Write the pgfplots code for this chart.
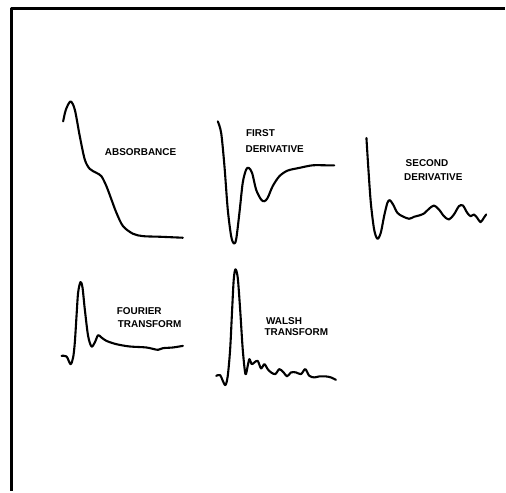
\documentclass[border=0pt]{standalone}
\usepackage{pgfplots}
\pgfplotsset{compat=1.18}
\usepackage{fontspec}
\setmainfont{Liberation Sans}
\tikzset{lab/.style={anchor=west, inner sep=0pt, font=\fontsize{10}{11}\selectfont\bfseries}}
\begin{document}
\begin{tikzpicture}
\begin{axis}[
  scale only axis, width=506bp, height=492bp,
  xmin=0, xmax=506, ymin=0, ymax=492, y dir=reverse,
  hide axis, clip=false,
  every axis plot/.append style={black, line width=2.1bp, line join=round, line cap=round},
]
\path (rel axis cs:0,0) rectangle (rel axis cs:1,1);
% frame
\addplot[line width=2.4bp, line cap=butt] coordinates {(11.5,492) (11.5,8.5) (506,8.5)};
% absorbance
\addplot[smooth] coordinates {
(63.3,121.7) (66,110) (70.7,101.7) (75,110) (80,136.7) (85,160) (90,169.3)
(96.7,173.3) (101.7,176.7) (106.7,186.7) (111.7,200) (116.7,213.3) (123.3,226.7)
(133.3,234.3) (143.3,236.7) (160,237.3) (183.3,238.3)};
% first derivative
\addplot[smooth] coordinates {
(218.3,121.7) (221.7,133.3) (225,166.7) (228.3,210) (231.7,236.7) (234.3,244)
(236.7,240) (240,213.3) (243.3,183.3) (246.7,170) (249.3,168.3) (252.7,173.3)
(256.7,190) (261.7,200) (265,201.7) (268.3,198.3) (273.3,186.7) (280,176.7)
(288.3,171) (300,168.3) (313.3,165.7) (326.7,165.7) (335,165.7)};
% second derivative
\addplot[smooth] coordinates {
(367.3,138.3) (369.3,170) (371.7,203.3) (375,230) (378.3,239.3) (381.7,233.3)
(385,216.7) (388.3,203.3) (390.7,200.7) (394,205) (398.3,213.3) (403.3,216.7)
(410,219.3) (415,217.3) (420,216) (425,214) (430,209.3) (435,206) (440,210)
(445,216.7) (450,220) (455,215) (460,206.7) (464,206) (468.3,213.3) (471.7,216.7)
(475,215) (478.3,218.3) (481.7,222.7) (485,218.3) (487.3,215)};
% fourier
\addplot[smooth] coordinates {
(61.7,356.7) (66.7,357.3) (70.7,365) (73.3,358.3) (75,343.3) (76.7,316.7)
(78.3,293.3) (80.7,282.7) (82.7,288.3) (85,310) (88.3,336.7) (91.7,347.3)
(95,343.3) (98.3,336) (101.7,338.3) (106.7,341.7) (116.7,345) (130,347.3)
(146.7,348.3) (158.3,350.7) (163.3,349) (173.3,348.3) (183.3,346.7)};
% walsh
\addplot[smooth] coordinates {
(216.7,376.7) (220.7,376) (223.3,381.7) (226,386) (228.3,376.7) (230.7,350)
(232.7,310) (234.3,280) (236,270) (238.3,278.3) (240.7,310) (243.3,350)
(246,375) (248.3,366.7) (250,360) (252.3,365) (255,363.3) (258.3,361.7)
(261.7,369.3) (265,365) (268.3,370) (271.7,373.3) (276,375) (280,370)
(284.3,373.3) (287.7,377.3) (291.7,373.3) (296.7,373.3) (301.7,375) (306,370)
(310,376.7) (315,378.3) (320,377.3) (326.7,377.3) (331.7,378.3) (336.7,380.7)};
% labels
\node[lab] at (axis cs:105,152) {ABSORBANCE};
\node[lab] at (axis cs:246.5,133.5) {FIRST};
\node[lab] at (axis cs:246,149) {DERIVATIVE};
\node[lab] at (axis cs:406.5,163.5) {SECOND};
\node[lab] at (axis cs:405,177) {DERIVATIVE};
\node[lab] at (axis cs:117,312) {FOURIER};
\node[lab] at (axis cs:118,324.5) {TRANSFORM};
\node[lab] at (axis cs:266.5,322) {WALSH};
\node[lab] at (axis cs:265,333) {TRANSFORM};
\end{axis}
\end{tikzpicture}
\end{document}
